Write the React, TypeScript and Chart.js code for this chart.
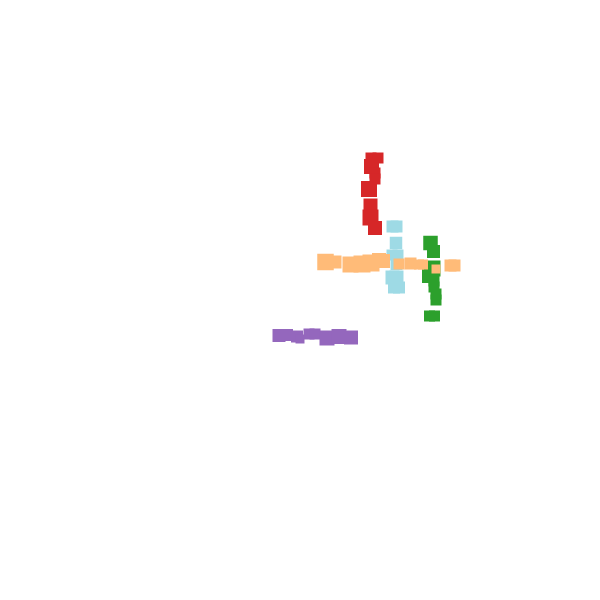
import React, { useEffect, useRef } from "react";
import { Chart, registerables } from "chart.js";

Chart.register(...registerables);

// Values (x, y in plot units 0..600, y grows downward; s = marker size)
const orangeX = [325.5, 335, 350.5, 362, 371, 379, 383, 399, 410.5, 419, 423, 436, 450.5, 454.5];
const orangeY = [262, 262, 264.5, 264, 263, 260, 261, 264, 263.5, 264.5, 264.5, 269, 265.5, 265.5];
const orangeS = [15.5, 12, 15, 16, 16, 13, 13, 10, 11, 9, 9, 8, 11, 11];

const purpleX = [279, 287, 297, 300, 309, 315, 327, 339, 351];
const purpleY = [335.5, 335, 336.5, 339, 334, 334, 338, 336.5, 337.5];
const purpleS = [12, 11, 11, 8, 10, 10, 14, 14, 13];

const redX = [371, 378, 371.5, 375, 375, 369, 370.5, 370.5, 375];
const redY = [158, 158, 166.5, 173, 179, 189, 205.5, 217.5, 228];
const redS = [10, 10, 14, 10, 10, 15, 13, 15, 13];

const blueX = [392.5, 396.5, 396, 392, 398, 396.5, 392.5, 396.5, 394, 399];
const blueY = [226.5, 226.5, 243, 255, 255, 264, 277.5, 277.5, 287.5, 287.5];
const blueS = [11, 11, 11.5, 10, 10, 11, 13, 13, 11, 11];

const greenX = [430.5, 433.5, 432.5, 429, 434, 434, 436, 436, 429.5, 434.5];
const greenY = [243, 251.5, 268.5, 276, 281, 287, 294, 300, 316, 316];
const greenS = [13.5, 12, 15, 13, 10, 10, 10, 10, 10, 10];

const series = [
  { name: "orange", color: "#ffbb78", x: orangeX, y: orangeY, s: orangeS },
  { name: "purple", color: "#9467bd", x: purpleX, y: purpleY, s: purpleS },
  { name: "red", color: "#d62728", x: redX, y: redY, s: redS },
  { name: "blue", color: "#9edae5", x: blueX, y: blueY, s: blueS },
  { name: "green", color: "#2ca02c", x: greenX, y: greenY, s: greenS },
];

export default function App() {
  const ref = useRef<HTMLCanvasElement>(null);
  useEffect(() => {
    document.body.style.margin = "0";
    if (!ref.current) return;
    const radius = (v: number) => (v + 1) / Math.SQRT2;
    const chart = new Chart(ref.current, {
      type: "scatter",
      data: {
        datasets: series.map((d) => ({
          label: d.name,
          data: d.x.map((v, i) => ({ x: v, y: d.y[i] })),
          backgroundColor: d.color,
          borderWidth: 0,
          pointStyle: "rect",
          pointRadius: d.s.map(radius),
          pointHoverRadius: d.s.map(radius),
        })),
      },
      options: {
        animation: false,
        responsive: false,
        maintainAspectRatio: false,
        layout: { padding: 0, autoPadding: false },
        plugins: { legend: { display: false }, tooltip: { enabled: false } },
        scales: {
          x: { type: "linear", min: 0, max: 600, display: false },
          y: { type: "linear", min: 0, max: 600, reverse: true, display: false },
        },
      },
    });
    return () => chart.destroy();
  }, []);
  return <canvas ref={ref} width={600} height={600} style={{ display: "block" }} />;
}
